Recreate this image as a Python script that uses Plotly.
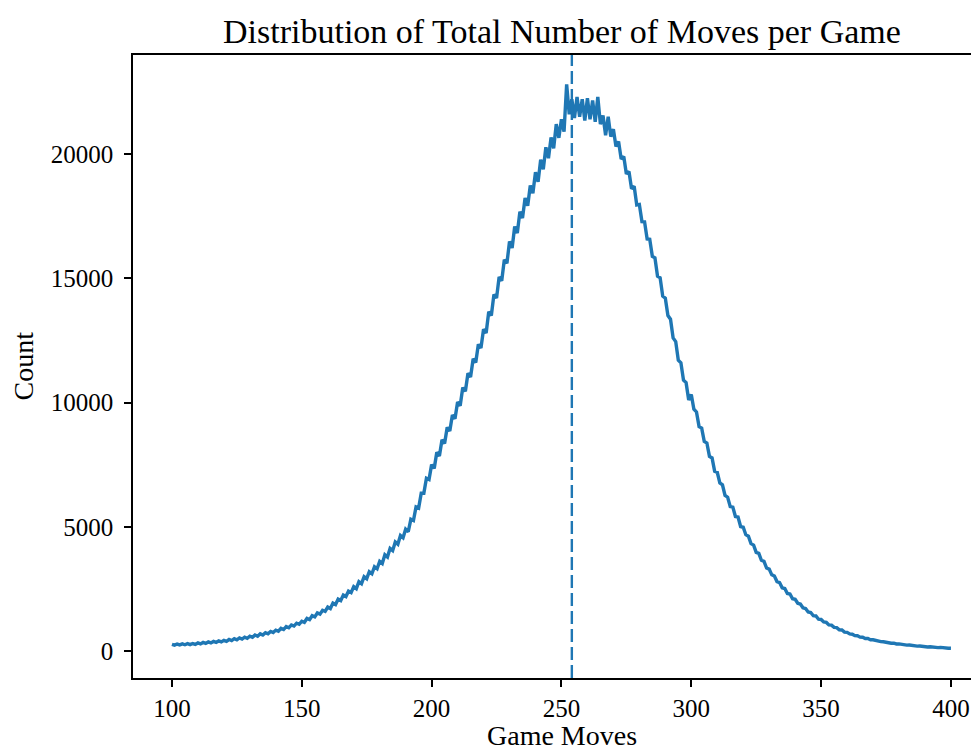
import plotly.graph_objects as go

# Game moves (x) and counts (y)
moves = list(range(100, 401))
counts = [
    270, 235, 280, 245, 285, 250, 295, 255, 300, 265,
    325, 285, 345, 305, 365, 325, 385, 345, 405, 365,
    430, 386, 462, 418, 494, 450, 526, 482, 558, 514,
    595, 549, 643, 597, 691, 645, 739, 693, 787, 741,
    840, 795, 910, 865, 980, 935, 1050, 1005, 1120, 1075,
    1200, 1155, 1310, 1265, 1420, 1375, 1530, 1485, 1640, 1595,
    1770, 1710, 1930, 1870, 2090, 2030, 2250, 2190, 2410, 2350,
    2590, 2510, 2790, 2710, 2990, 2910, 3190, 3110, 3390, 3310,
    3610, 3520, 3870, 3780, 4130, 4040, 4390, 4300, 4650, 4560,
    4900, 4800, 5300, 5250, 5800, 5750, 6350, 6350, 6950, 6900,
    7500, 7350, 8000, 7850, 8500, 8350, 9000, 8850, 9500, 9350,
    10020, 9870, 10600, 10450, 11180, 11030, 11760, 11610, 12340, 12190,
    12950, 12800, 13650, 13500, 14350, 14200, 15050, 14900, 15750, 15600,
    16480, 16220, 17080, 16820, 17680, 17420, 18230, 17920, 18730, 18420,
    19270, 18880, 19770, 19380, 20270, 19830, 20670, 20230, 21200, 20650,
    21400, 20900, 22800, 21600, 22200, 21450, 22300, 21500, 22200, 21350,
    22250, 21400, 22150, 21300, 22300, 21200, 21550, 20750, 21500, 20700,
    21000, 20300, 20500, 19800, 19900, 19200, 19300, 18600, 18700, 17950,
    17970, 17280, 17270, 16580, 16570, 15880, 15820, 15080, 15020, 14280,
    14200, 13500, 13350, 12600, 12450, 11700, 11600, 10900, 10800, 10100,
    10320, 9730, 9620, 9030, 8970, 8430, 8370, 7830, 7770, 7230,
    7190, 6760, 6690, 6260, 6190, 5810, 5790, 5410, 5390, 5010,
    4980, 4680, 4620, 4320, 4260, 3970, 3930, 3650, 3610, 3340,
    3295, 3065, 3015, 2795, 2755, 2545, 2515, 2315, 2295, 2105,
    2080, 1920, 1890, 1740, 1710, 1570, 1550, 1420, 1410, 1280,
    1270, 1170, 1150, 1050, 1040, 950, 940, 850, 845, 760,
    752, 688, 677, 618, 612, 558, 552, 503, 502, 453,
    453, 417, 413, 377, 373, 342, 343, 312, 313, 282,
    288, 260, 264, 237, 242, 216, 222, 197, 204, 180,
    188, 164, 173, 150, 159, 136, 146, 124, 134, 112,
    110,
]
assert len(counts) == len(moves)

mean_moves = 254.0
x_ticks = [100, 150, 200, 250, 300, 350, 400]
x_labels = ["100", "150", "200", "250", "300", "350", "400"]
y_ticks = [0, 5000, 10000, 15000, 20000]
y_labels = ["0", "5000", "10000", "15000", "20000"]

BLUE = "#1f77b4"
FONT = "Liberation Serif"

fig = go.Figure()
fig.add_trace(go.Scatter(x=moves, y=counts, mode="lines",
                         line=dict(color=BLUE, width=3.4), showlegend=False))
fig.add_shape(type="line", xref="x", yref="paper", x0=mean_moves, x1=mean_moves,
              y0=0, y1=1, line=dict(color=BLUE, width=2.4, dash="13px,5px"))

axis_common = dict(showline=True, linecolor="black", linewidth=1.7,
                   ticks="outside", ticklen=7, tickwidth=1.7, tickcolor="black",
                   showgrid=False, zeroline=False,
                   tickfont=dict(family=FONT, size=25, color="black"))

fig.update_xaxes(range=[85, 410.8], tickvals=x_ticks, ticktext=x_labels,
                 mirror=True, ticklabelstandoff=0, **axis_common)
fig.update_yaxes(range=[-1086, 23984], tickvals=y_ticks, ticktext=y_labels,
                 mirror=False, ticklabelstandoff=6, **axis_common)

# page body has an 8px margin, so the figure is 8px smaller and offset
fig.update_layout(
    width=971, height=743,
    margin=dict(l=125, r=0, t=47, b=73),
    plot_bgcolor="white", paper_bgcolor="white",
    title=dict(text="Distribution of Total Number of Moves per Game",
               x=0.507, xref="paper", xanchor="center",
               y=1 - 23 / 743, yref="container", yanchor="middle",
               font=dict(family=FONT, size=34, color="black")),
    font=dict(family=FONT, color="black"),
    annotations=[
        dict(text="Game Moves", xref="paper", yref="paper", x=0.507, y=0,
             xanchor="center", yanchor="middle", yshift=-57, showarrow=False,
             font=dict(family=FONT, size=28, color="black")),
        dict(text="Count", xref="paper", yref="paper", x=0, y=0.5,
             xanchor="center", yanchor="middle", xshift=-110, textangle=-90,
             showarrow=False, font=dict(family=FONT, size=28, color="black")),
    ],
)

fig.write_html("out.html")
